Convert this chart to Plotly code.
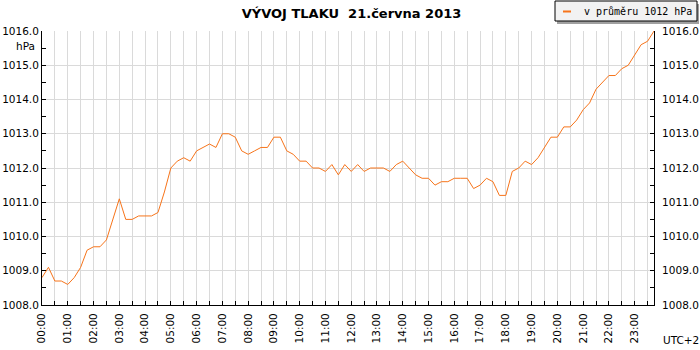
import plotly.graph_objects as go

# ---- data ----
times = ["%02d:%02d" % (h, m) for h in range(24) for m in (0, 15, 30, 45)]
pressure = [
    1008.8, 1009.1, 1008.7, 1008.7, 1008.6, 1008.8, 1009.1, 1009.6,
    1009.7, 1009.7, 1009.9, 1010.5, 1011.1, 1010.5, 1010.5, 1010.6,
    1010.6, 1010.6, 1010.7, 1011.3, 1012.0, 1012.2, 1012.3, 1012.2,
    1012.5, 1012.6, 1012.7, 1012.6, 1013.0, 1013.0, 1012.9, 1012.5,
    1012.4, 1012.5, 1012.6, 1012.6, 1012.9, 1012.9, 1012.5, 1012.4,
    1012.2, 1012.2, 1012.0, 1012.0, 1011.9, 1012.1, 1011.8, 1012.1,
    1011.9, 1012.1, 1011.9, 1012.0, 1012.0, 1012.0, 1011.9, 1012.1,
    1012.2, 1012.0, 1011.8, 1011.7, 1011.7, 1011.5, 1011.6, 1011.6,
    1011.7, 1011.7, 1011.7, 1011.4, 1011.5, 1011.7, 1011.6, 1011.2,
    1011.2, 1011.9, 1012.0, 1012.2, 1012.1, 1012.3, 1012.6, 1012.9,
    1012.9, 1013.2, 1013.2, 1013.4, 1013.7, 1013.9, 1014.3, 1014.5,
    1014.7, 1014.7, 1014.9, 1015.0, 1015.3, 1015.6, 1015.7, 1016.0,
]
day = "2013-06-21"
title_text = "VÝVOJ TLAKU\u00a0 21.června 2013"
legend_text = "v průměru 1012 hPa"
unit_text = "hPa"
tz_text = "UTC+2"
y_range = [1008, 1016]

x_vals = [day + " " + t for t in times]

# ---- layout geometry (pixels) ----
W, H = 700, 350
L, R, T, B = 42, 46, 31, 45
PW, PH = W - L - R, H - T - B


def px(x):
    return (x - L) / PW


def py(y):
    return 1 - (y - T) / PH


LINE = "#f7741a"
GRID = "#dadada"
FONT = "DejaVu Sans"

fig = go.Figure()
fig.add_trace(go.Scatter(x=x_vals, y=pressure, mode="lines",
                         line=dict(color=LINE, width=1), showlegend=False,
                         hoverinfo="skip"))
fig.add_trace(go.Scatter(x=x_vals, y=pressure, mode="lines", yaxis="y2",
                         line=dict(color=LINE, width=0), opacity=0,
                         showlegend=False, hoverinfo="skip"))

tickfont = dict(family=FONT, size=10.5, color="#000")
yax = dict(range=y_range, dtick=1, tick0=1008, tickformat=".1f",
           showgrid=True, gridcolor=GRID, gridwidth=1,
           showline=True, linecolor="#000", linewidth=1,
           ticks="inside", ticklen=4, tickcolor="#000", tickwidth=1,
           tickfont=tickfont, zeroline=False, fixedrange=True,
           automargin=False,
           minor=dict(dtick=0.5, ticks="inside", ticklen=4,
                      tickcolor="#000", showgrid=False))

fig.update_layout(
    template="none",
    width=W, height=H,
    margin=dict(l=L, r=R, t=T, b=B, pad=0),
    paper_bgcolor="#fff", plot_bgcolor="#fff",
    showlegend=False,
    title=dict(text="<b>" + title_text + "</b>", x=351.5 / W, xanchor="center",
               y=1 - 13 / H, yanchor="middle",
               font=dict(family=FONT, size=13, color="#000")),
    xaxis=dict(type="date",
               range=[x_vals[0], x_vals[-1]],
               tick0=day, dtick=3600000, tickformat="%H:%M", tickangle=-90,
               showgrid=True, gridcolor=GRID, gridwidth=1,
               showline=True, linecolor="#000", linewidth=1,
               ticks="inside", ticklen=4, tickcolor="#000",
               tickfont=tickfont, zeroline=False, mirror=False,
               automargin=False, fixedrange=True, ticklabelstandoff=3,
               minor=dict(dtick=1800000, ticks="inside", ticklen=4,
                          tickcolor="#000", showgrid=True, gridcolor=GRID)),
    yaxis=dict(yax, side="left"),
    yaxis2=dict(yax, side="right", overlaying="y", showgrid=False,
                ticklabelstandoff=5),
)

# legend box drawn manually
bx0, bx1, by0, by1 = 555, 697, 1, 21
fig.add_shape(type="rect", xref="paper", yref="paper",
              x0=px(bx0 + 2), x1=px(bx1 + 2), y0=py(by0 + 3), y1=py(by1 + 3),
              fillcolor="#a0a0a0", line=dict(width=0), layer="above")
fig.add_shape(type="rect", xref="paper", yref="paper",
              x0=px(bx0), x1=px(bx1), y0=py(by0), y1=py(by1),
              fillcolor="#f2f2f2", line=dict(color="#000", width=1), layer="above")
fig.add_shape(type="line", xref="paper", yref="paper",
              x0=px(563), x1=px(571), y0=py(11.5), y1=py(11.5),
              line=dict(color=LINE, width=2), layer="above")
fig.add_annotation(text=legend_text, xref="paper", yref="paper",
                   x=px(582), y=py(11), xanchor="left", yanchor="middle",
                   showarrow=False,
                   font=dict(family="DejaVu Sans Mono", size=10, color="#000"))
fig.add_annotation(text=unit_text, xref="paper", yref="paper",
                   x=px(37), y=py(46), xanchor="right", yanchor="middle",
                   showarrow=False, font=tickfont)
fig.add_annotation(text=tz_text, xref="paper", yref="paper",
                   x=px(681), y=py(340), xanchor="center", yanchor="middle",
                   showarrow=False, font=tickfont)

fig.write_html("out.html", config={"displayModeBar": False},
               post_script="document.body.style.margin='0';"
                           "document.body.style.overflow='hidden';")
